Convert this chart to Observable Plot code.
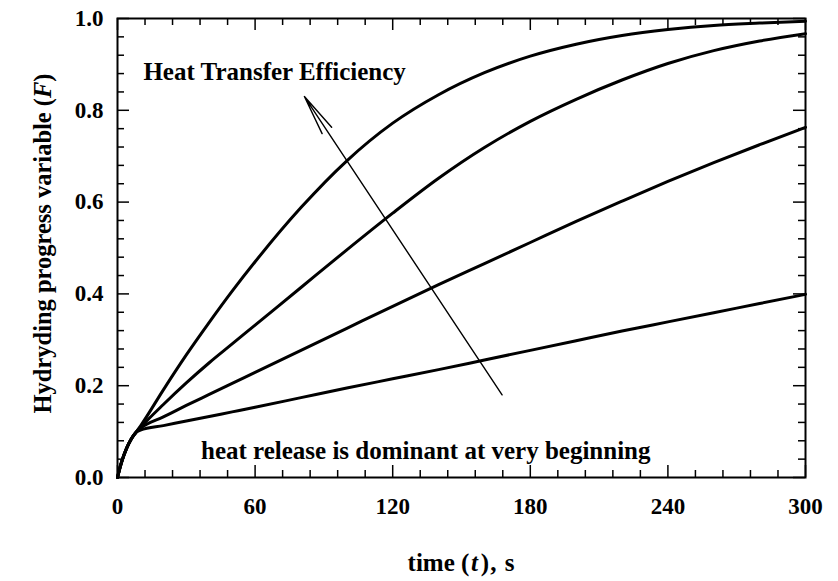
<!DOCTYPE html>
<html><head><meta charset="utf-8">
<script src="https://cdn.jsdelivr.net/npm/d3@7"></script>
<script src="https://cdn.jsdelivr.net/npm/@observablehq/plot@0.6"></script>
<style>html,body{margin:0;padding:0;background:#fff;overflow:hidden}</style>
</head><body><div id="chart"></div>
<script>
// ---- data ----
const time = [0, 1, 2, 4, 6, 8, 10, 20, 30, 40, 50, 60, 80, 100, 120, 140, 160, 180, 200, 220, 240, 260, 280, 300];
const curveEff4 = [0, 0.02, 0.037, 0.064, 0.084, 0.098, 0.112, 0.191, 0.267, 0.338, 0.406, 0.470, 0.588, 0.690, 0.772, 0.834, 0.882, 0.918, 0.944, 0.963, 0.976, 0.985, 0.990, 0.994];
const curveEff3 = [0, 0.02, 0.037, 0.064, 0.084, 0.098, 0.109, 0.159, 0.206, 0.250, 0.291, 0.332, 0.414, 0.496, 0.576, 0.652, 0.719, 0.776, 0.824, 0.866, 0.902, 0.930, 0.951, 0.967];
const curveEff2 = [0, 0.02, 0.037, 0.064, 0.084, 0.098, 0.107, 0.132, 0.157, 0.181, 0.205, 0.229, 0.277, 0.325, 0.373, 0.420, 0.466, 0.512, 0.558, 0.602, 0.645, 0.686, 0.725, 0.763];
const curveEff1 = [0, 0.02, 0.037, 0.064, 0.084, 0.098, 0.103, 0.113, 0.123, 0.133, 0.143, 0.153, 0.174, 0.195, 0.215, 0.235, 0.256, 0.277, 0.298, 0.319, 0.339, 0.359, 0.379, 0.399];
const seriesNames = ["eff4", "eff3", "eff2", "eff1"];

const xTicks = [0, 60, 120, 180, 240, 300];
const xTickLabels = ["0", "60", "120", "180", "240", "300"];
const xMinorTicks = [12, 24, 36, 48, 72, 84, 96, 108, 132, 144, 156, 168, 192, 204, 216, 228, 252, 264, 276, 288];
const yTicks = [0, 0.2, 0.4, 0.6, 0.8, 1.0];
const yTickLabels = ["0.0", "0.2", "0.4", "0.6", "0.8", "1.0"];
const yMinorTicks = [0.04, 0.08, 0.12, 0.16, 0.24, 0.28, 0.32, 0.36, 0.44, 0.48, 0.52, 0.56, 0.64, 0.68, 0.72, 0.76, 0.84, 0.88, 0.92, 0.96];

const arrowTail = {t: 167.7, F: 0.180};
const arrowHead = {t: 81.5, F: 0.830};
const noteTexts = ["Heat Transfer Efficiency", "heat release is dominant at very beginning"];
const noteT = [11.3, 36.4];
const noteF = [0.866, 0.041];

const xTitleParts = ["time (", "t", ")", ",", " s"];
const yTitleParts = ["Hydryding progress variable (", "F", ")"];

// ---- build tables ----
const rows = [];
[curveEff4, curveEff3, curveEff2, curveEff1].forEach((arr, k) =>
  arr.forEach((F, i) => rows.push({t: time[i], F, series: seriesNames[k]})));
const notes = noteTexts.map((text, i) => ({text, t: noteT[i], F: noteF[i]}));

const W = 838, H = 581, mL = 117, mR = 33, mT = 18, mB = 104;
const innerW = W - mL - mR, innerH = H - mT - mB;
const serif = "'Liberation Serif','Times New Roman',Times,serif";

const chart = Plot.plot({
  width: W, height: H,
  marginLeft: mL, marginRight: mR, marginTop: mT, marginBottom: mB,
  style: {fontFamily: serif, fontWeight: "bold", fontSize: "23px", color: "#000", background: "#fff"},
  x: {domain: [0, 300]},
  y: {domain: [0, 1]},
  marks: [
    Plot.axisX(xTicks, {anchor: "bottom", tickSize: 0, tickPadding: 20, label: null,
      tickFormat: d => xTickLabels[xTicks.indexOf(d)]}),
    Plot.axisY(yTicks, {anchor: "left", tickSize: 0, tickPadding: 14, label: null,
      tickFormat: d => yTickLabels[yTicks.indexOf(d)]}),
    // inward ticks on all four sides
    Plot.tickX(xTicks, {x: d => d, insetTop: innerH - 12, strokeWidth: 1.5}),
    Plot.tickX(xTicks, {x: d => d, insetBottom: innerH - 12, strokeWidth: 1.5}),
    Plot.tickX(xMinorTicks, {x: d => d, insetTop: innerH - 7, strokeWidth: 1.5}),
    Plot.tickX(xMinorTicks, {x: d => d, insetBottom: innerH - 7, strokeWidth: 1.5}),
    Plot.tickY(yTicks, {y: d => d, insetRight: innerW - 12, strokeWidth: 1.5}),
    Plot.tickY(yTicks, {y: d => d, insetLeft: innerW - 12, strokeWidth: 1.5}),
    Plot.tickY(yMinorTicks, {y: d => d, insetRight: innerW - 7, strokeWidth: 1.5}),
    Plot.tickY(yMinorTicks, {y: d => d, insetLeft: innerW - 7, strokeWidth: 1.5}),
    Plot.line(rows, {x: "t", y: "F", z: "series", stroke: "#000", strokeWidth: 3, curve: "monotone-x"}),
    Plot.arrow([{tail: arrowTail, head: arrowHead}], {
      x1: d => d.tail.t, y1: d => d.tail.F, x2: d => d.head.t, y2: d => d.head.F,
      stroke: "#000", strokeWidth: 1.4, headLength: 44, headAngle: 16
    }),
    Plot.text(notes, {x: "t", y: "F", text: "text", textAnchor: "start", lineAnchor: "bottom",
      fontSize: 25, fontWeight: "bold", fill: "#000"}),
    Plot.frame({stroke: "#000", strokeWidth: 2})
  ]
});

document.getElementById("chart").appendChild(chart);

// axis titles with italic symbols
const svg = d3.select(chart.tagName.toLowerCase() === "svg" ? chart : chart.querySelector("svg"));
const xt = svg.append("text")
  .attr("x", mL + innerW / 2).attr("y", 571)
  .attr("text-anchor", "middle")
  .style("font-family", serif).style("font-weight", "bold").style("font-size", "25px").attr("fill", "#000");
const xdx = [0, 1.5, 3, 1, 2];
xTitleParts.forEach((s, i) => {
  const ts = xt.append("tspan").attr("dx", xdx[i]).text(s);
  if (i === 1) ts.style("font-style", "italic");
});

const yt = svg.append("text")
  .attr("transform", `translate(51,${mT + innerH / 2 - 4}) rotate(-90)`)
  .attr("text-anchor", "middle")
  .style("font-family", serif).style("font-weight", "bold").style("font-size", "24.5px").attr("fill", "#000");
yTitleParts.forEach((s, i) => {
  const ts = yt.append("tspan").text(s);
  if (i === 1) ts.style("font-style", "italic");
});
</script>
</body></html>
